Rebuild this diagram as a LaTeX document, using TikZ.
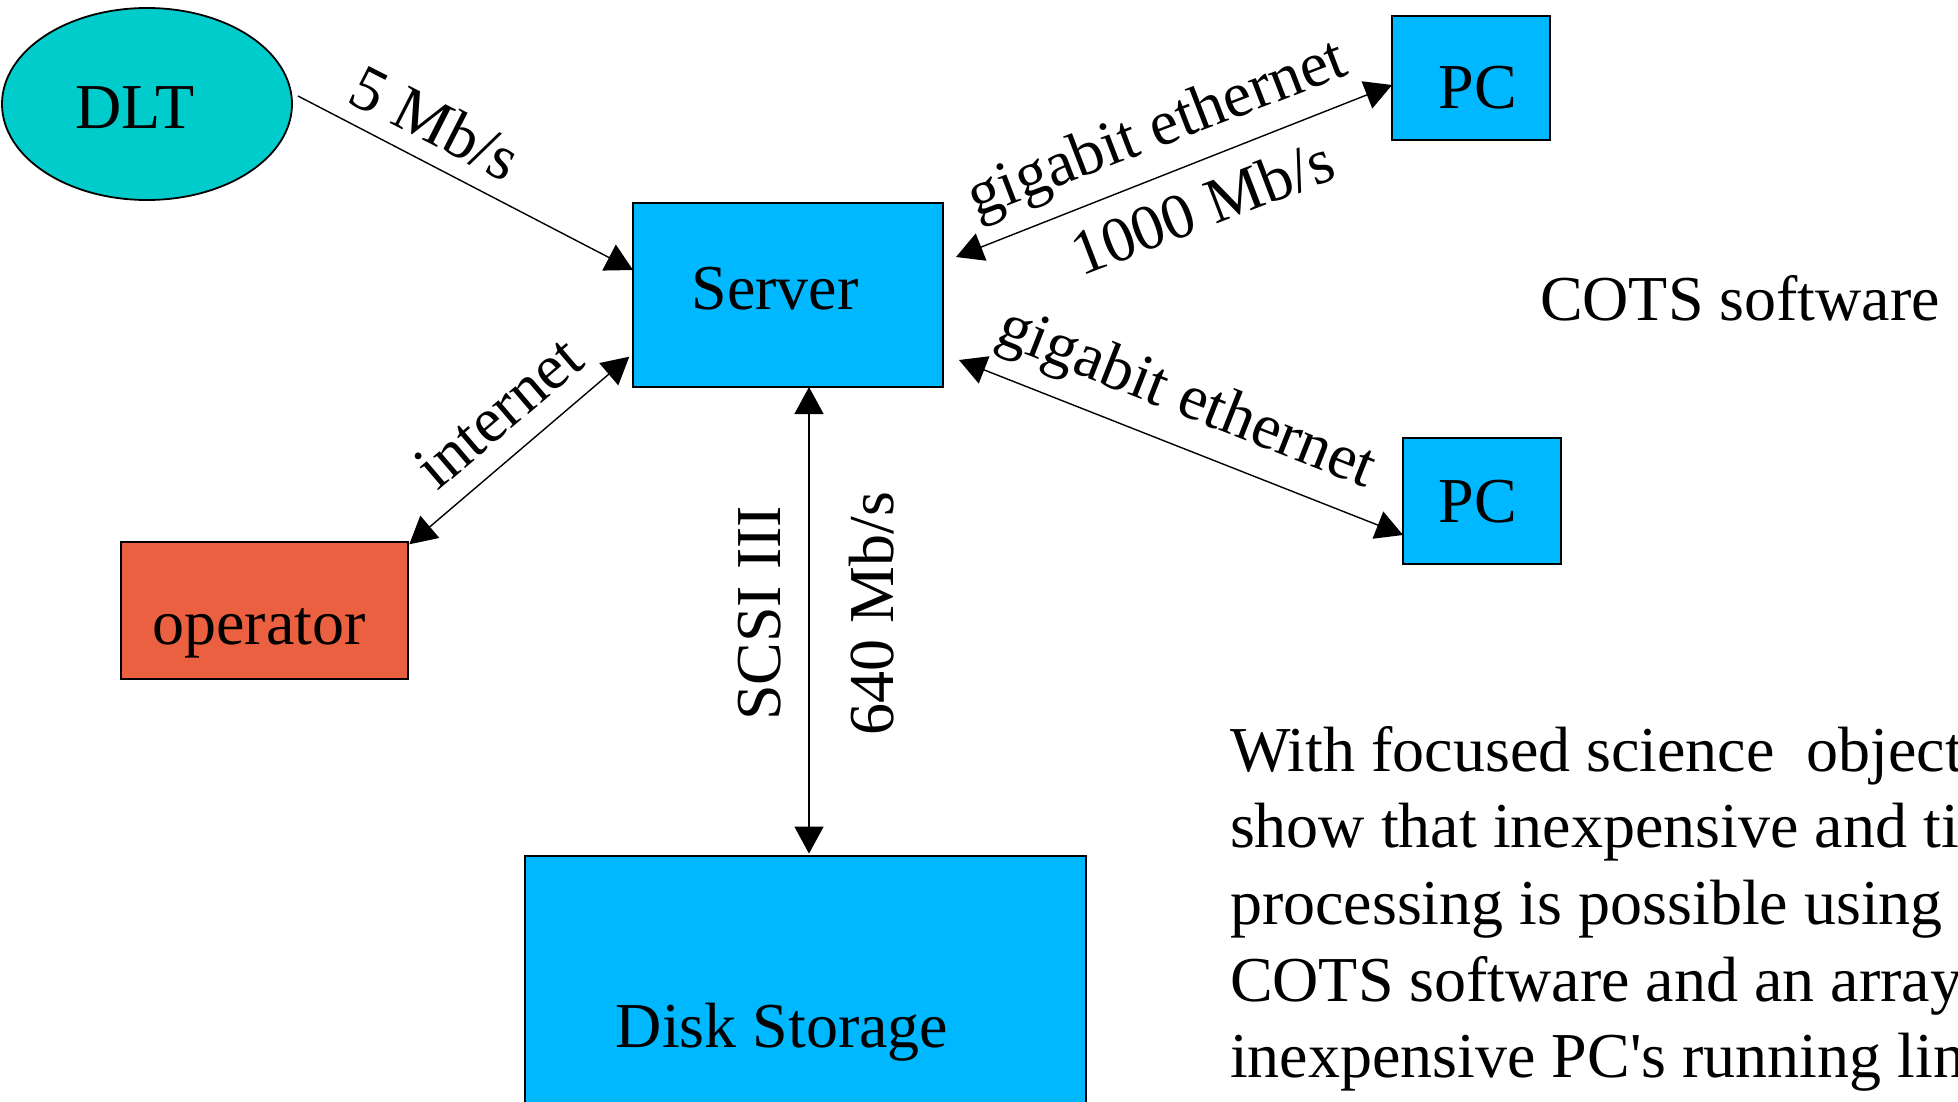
\documentclass[tikz,border=0pt]{standalone}
\usepackage{fontspec}
\setmainfont{Liberation Serif}
\usetikzlibrary{arrows.meta,shapes.geometric}
\definecolor{boxblue}{RGB}{0,184,255}
\definecolor{dltcyan}{RGB}{0,204,204}
\definecolor{oporange}{RGB}{234,96,64}
\begin{document}
\begin{tikzpicture}[x=0.5pt,y=-0.5pt,
  shapebox/.style={draw=black, line width=0.9pt, inner sep=0pt, outer sep=0pt},
  bluebox/.style={shapebox, fill=boxblue},
  txt/.style={font=\fontsize{32pt}{38.5pt}\selectfont, inner sep=0pt, outer sep=0pt},
  lbl/.style={txt, anchor=center},
  tip/.style={Triangle[length=13.5pt,width=14.5pt]},
  conn/.style={line width=0.7pt, -{Triangle[length=13.5pt,width=14.5pt]}},
  dconn/.style={line width=0.7pt, {Triangle[length=13.5pt,width=14.5pt]}-{Triangle[length=13.5pt,width=14.5pt]}},
]
\useasboundingbox (0,0) rectangle (1958,1102);
\clip (0,0) rectangle (1958,1102);
\fill[white] (0,0) rectangle (1958,1102);

% shapes
\node[ellipse, shapebox, fill=dltcyan, minimum width=145pt, minimum height=96pt] (dlt) at (147,104) {};
\node[bluebox, minimum width=155pt, minimum height=92pt] (server) at (788,295) {};
\node[bluebox, minimum width=79pt, minimum height=62pt] (pc1) at (1471,78) {};
\node[bluebox, minimum width=79pt, minimum height=63pt] (pc2) at (1482,501) {};
\node[shapebox, fill=oporange, minimum width=143.5pt, minimum height=68.5pt] (op) at (264.5,610.5) {};
\node[bluebox, minimum width=280.5pt, minimum height=137pt] (disk) at (805.5,993) {};

% texts in shapes
\node[txt, anchor=base] (dlttext) at (135,128) {DLT};
\node[txt, anchor=base] (servertext) at (775,309) {Server};
\node[txt, anchor=base] (pc1text) at (1478,109) {PC};
\node[txt, anchor=base] (pc2text) at (1478,522) {PC};
\node[txt, anchor=base] (optext) at (259,644) {operator};
\node[txt, anchor=base] (disktext) at (782,1047) {Disk Storage};

% connectors
\draw[conn] ([xshift=3pt,yshift=4pt]dlt.east) -- ([yshift=12.5pt]server.west);
\draw[dconn] ([xshift=6.5pt,yshift=19pt]server.east) -- ([yshift=-3.5pt]pc1.west);
\draw[dconn] ([xshift=8pt,yshift=-32.5pt]server.east) -- ([yshift=-17pt]pc2.west);
\draw[dconn] ([xshift=-1.85pt,yshift=-30.85pt]server.west) -- ([xshift=0.65pt,yshift=-1.15pt]op.north east);
\draw[dconn] ([xshift=10.5pt]server.south) -- ([xshift=1.75pt,yshift=1.2pt]disk.north);

% connector labels
\node[lbl, rotate=-27] (l5mb) at (435.7,122.3) {5 Mb/s};
\node[lbl, rotate=21] (lgig1) at (1158,131.7) {gigabit ethernet};
\node[lbl, rotate=21] (l1000) at (1202,206.7) {1000 Mb/s};
\node[lbl, rotate=-21.5] (lgig2) at (1185.7,400.7) {gigabit ethernet};
\node[lbl, rotate=40.5] (linternet) at (498.7,412.3) {internet};
\node[lbl, rotate=90] (lscsi) at (760,613.3) {SCSI III};
\node[lbl, rotate=90] (l640) at (872,613.3) {640 Mb/s};

% free texts
\node[txt, anchor=base west] (cots) at (1540,320) {COTS software};
\node[txt, anchor=base west] (p1) at (1230,771) {With focused science\ \ object};
\node[txt, anchor=base west] (p2) at (1230,847) {show that inexpensive and ti};
\node[txt, anchor=base west] (p3) at (1230,924) {processing is possible using};
\node[txt, anchor=base west] (p4) at (1230,1001) {COTS software and an array};
\node[txt, anchor=base west] (p5) at (1230,1077) {inexpensive PC\textquotesingle s running lin};
\end{tikzpicture}
\end{document}
